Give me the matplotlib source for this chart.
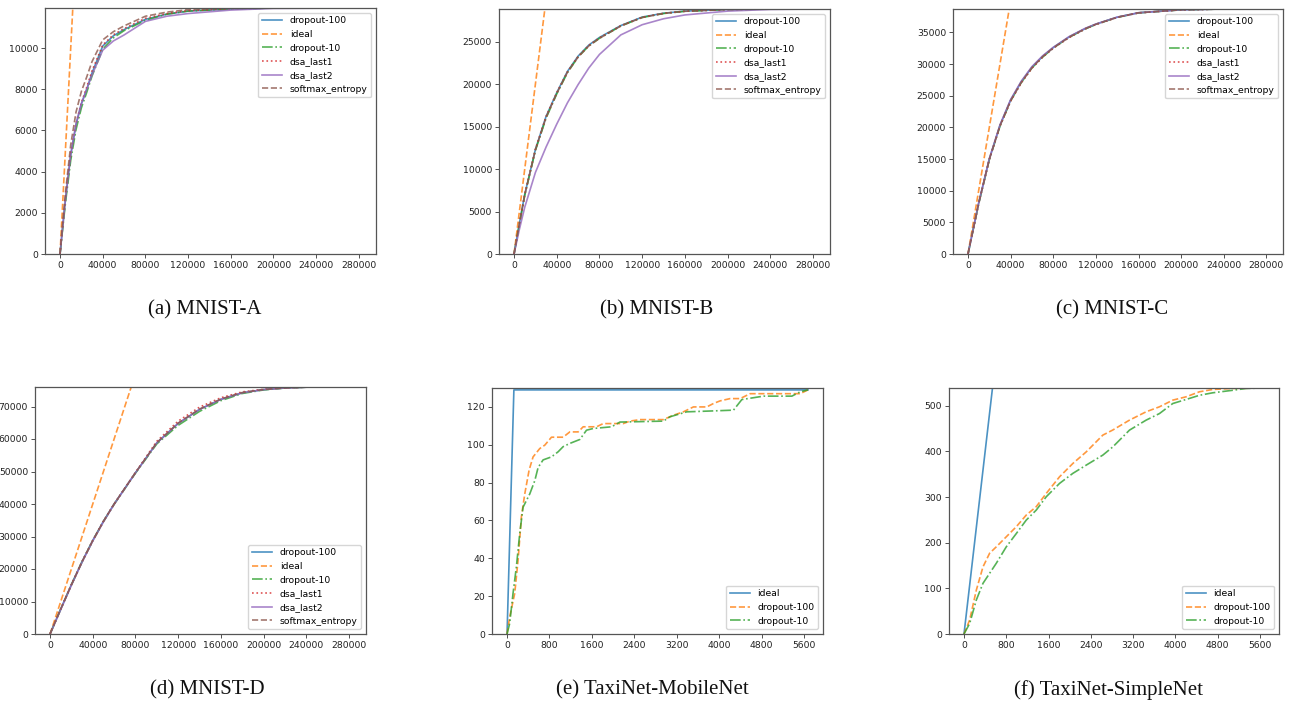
import matplotlib
matplotlib.use("Agg")
import matplotlib.pyplot as plt

# ---------------- data ----------------
# MNIST-A
xA = [0, 2000, 5000, 10000, 15000, 20000, 25000, 30000, 40000, 50000, 60000, 80000, 100000, 120000, 160000, 200000, 282000]
d100A = [0, 1050, 2600, 4800, 6300, 7300, 8000, 8800, 10100, 10600, 10900, 11400, 11650, 11800, 11900, 11950, 11950]
d10A = [0, 1000, 2450, 4550, 6050, 7100, 7850, 8650, 9950, 10500, 10850, 11350, 11650, 11800, 11900, 11950, 11950]
dsa1A = [0, 1100, 2650, 4850, 6350, 7350, 8100, 8900, 10150, 10650, 10950, 11450, 11680, 11820, 11910, 11950, 11950]
dsa2A = [0, 1100, 2650, 4850, 6300, 7300, 8000, 8700, 9900, 10350, 10640, 11300, 11550, 11680, 11850, 11930, 11950]
smA = [0, 1250, 2950, 5300, 6900, 7900, 8600, 9350, 10400, 10800, 11080, 11550, 11750, 11870, 11940, 11950, 11950]
NA = 11950

# MNIST-B
xB = [0, 5000, 10000, 20000, 30000, 40000, 50000, 60000, 70000, 80000, 100000, 120000, 140000, 160000, 200000, 240000, 281800]
d100B = [0, 3600, 7000, 12300, 16200, 19000, 21500, 23300, 24600, 25500, 26900, 27900, 28350, 28600, 28800, 28850, 28850]
d10B = [0, 3500, 6900, 12200, 16000, 18850, 21350, 23200, 24500, 25400, 26850, 27850, 28320, 28580, 28790, 28850, 28850]
dsa1B = [0, 3600, 7000, 12350, 16200, 19000, 21450, 23250, 24550, 25450, 26880, 27880, 28340, 28590, 28800, 28850, 28850]
dsa2B = [0, 2900, 5500, 9600, 12600, 15300, 17800, 19950, 21900, 23500, 25800, 27000, 27700, 28150, 28600, 28800, 28850]
smB = [0, 3550, 6950, 12250, 16100, 18900, 21400, 23200, 24500, 25400, 26850, 27850, 28330, 28580, 28790, 28850, 28850]
NB = 28850

# MNIST-C
xC = [0, 10000, 20000, 30000, 40000, 50000, 60000, 70000, 80000, 95000, 110000, 120000, 140000, 160000, 200000, 240000, 281500]
d100C = [0, 8000, 15000, 20300, 24300, 27200, 29500, 31200, 32600, 34300, 35600, 36300, 37400, 38100, 38580, 38700, 38700]
d10C = [0, 7950, 14900, 20200, 24200, 27100, 29400, 31100, 32550, 34250, 35550, 36280, 37380, 38090, 38570, 38700, 38700]
dsa1C = [0, 7950, 14950, 20200, 24150, 27050, 29350, 31100, 32500, 34200, 35550, 36250, 37370, 38080, 38570, 38700, 38700]
dsa2C = [0, 8050, 15050, 20400, 24400, 27300, 29600, 31300, 32650, 34350, 35650, 36330, 37420, 38110, 38580, 38700, 38700]
smC = [0, 7950, 14950, 20250, 24200, 27100, 29400, 31150, 32550, 34250, 35580, 36280, 37390, 38100, 38580, 38700, 38700]
NC = 38700

# MNIST-D
xD = [0, 10000, 20000, 30000, 40000, 50000, 60000, 80000, 100000, 120000, 140000, 160000, 180000, 200000, 220000, 240000, 281800]
d100D = [0, 7700, 15200, 22300, 28800, 34700, 40000, 49600, 58800, 64800, 69100, 72200, 74200, 75200, 75700, 75950, 76000]
d10D = [0, 7650, 15100, 22200, 28700, 34600, 39900, 49500, 58500, 64200, 68500, 71800, 74000, 75100, 75700, 75950, 76000]
dsa1D = [0, 7700, 15200, 22300, 28800, 34700, 40000, 49700, 59300, 65500, 69800, 72700, 74500, 75300, 75750, 75950, 76000]
dsa2D = [0, 7500, 15000, 22100, 28600, 34500, 39900, 49600, 58800, 64800, 69100, 72200, 74200, 75200, 75700, 75950, 76000]
smD = [0, 7650, 15150, 22250, 28750, 34650, 40000, 49650, 58900, 64900, 69200, 72300, 74300, 75250, 75700, 75950, 76000]
ND = 76000

# TaxiNet-MobileNet
xE_d100 = [0, 50, 145, 208, 271, 334, 416, 491, 617, 712, 838, 1058, 1184, 1342, 1436, 1688, 1814, 2192, 2318, 2507,
           2948, 3137, 3326, 3515, 3767, 3893, 4019, 4208, 4397, 4586, 5531, 5676]
yE_d100 = [0, 9, 21.5, 39, 62, 74, 86.6, 93.6, 98, 99.8, 104, 104, 106.8, 106.8, 109.5, 109.5, 111.2, 111.2, 112.5, 113.3,
           113.3, 115.6, 117.4, 120, 120, 121.8, 123.2, 124.4, 124.4, 127, 127, 129]
xE_d10 = [0, 50, 113, 176, 239, 302, 428, 523, 586, 680, 838, 964, 1058, 1184, 1373, 1499, 1625, 1972, 2129, 2948,
          3074, 3389, 3893, 4271, 4429, 4838, 5373, 5531, 5676]
yE_d10 = [0, 5.6, 21.5, 35.5, 53, 67, 74, 81, 88, 92, 93.6, 96.3, 99, 100.7, 102.8, 107.7, 108.6, 109.5, 112, 112.5,
          114.8, 117.4, 117.9, 118.3, 123.9, 125.7, 125.7, 128, 129]
xE_ideal = [0, 129, 5676]
yE_ideal = [0, 129, 129]
NE_top = 130

# TaxiNet-SimpleNet
xF_d100 = [0, 107, 233, 359, 485, 611, 800, 989, 1178, 1367, 1556, 1808, 2060, 2312, 2627, 2816, 3131, 3446, 3698,
           3950, 4202, 4454, 4706, 5084, 5676]
yF_d100 = [0, 30.7, 96, 147, 177, 191, 213, 235, 260.6, 279, 308, 344.5, 373.7, 399, 435.8, 447, 468.6, 486.9, 497.8,
           512.4, 519.7, 530.7, 535.8, 538, 539]
xF_d10 = [0, 107, 233, 359, 485, 611, 800, 989, 1178, 1367, 1556, 1808, 2060, 2312, 2627, 2816, 3131, 3446, 3698,
          3950, 4202, 4454, 4706, 5084, 5336, 5676]
yF_d10 = [0, 23, 74.5, 111, 133, 155, 191, 220, 249.6, 271.5, 300.7, 330, 352, 370, 392, 410, 446.7, 468.6, 483,
          505, 513.9, 523, 528.5, 534, 538, 539]
xF_ideal = [0, 539, 5676]
yF_ideal = [0, 539, 539]
NF_top = 539

mnist_xticks = [0, 40000, 80000, 120000, 160000, 200000, 240000, 280000]
taxi_xticks = [0, 800, 1600, 2400, 3200, 4000, 4800, 5600]

captions = ["(a) MNIST-A", "(b) MNIST-B", "(c) MNIST-C", "(d) MNIST-D",
            "(e) TaxiNet-MobileNet", "(f) TaxiNet-SimpleNet"]

# ---------------- style ----------------
W, H = 1289, 703
fig = plt.figure(figsize=(W / 100, H / 100), dpi=100)

C = plt.rcParams['axes.prop_cycle'].by_key()['color']
LW = 1.2
AL = 0.8
FS = 6.7


def ax_at(x0, y0, x1, y1):
    return fig.add_axes([x0 / W, 1 - y1 / H, (x1 - x0) / W, (y1 - y0) / H])


def style(ax, xticks, yticks):
    ax.set_xticks(xticks)
    ax.set_yticks(yticks)
    ax.tick_params(labelsize=FS, length=3, width=0.6, colors='#333333', labelcolor='#222222', pad=2)
    for s in ax.spines.values():
        s.set_color('#555555')
        s.set_linewidth(0.9)


def mnist(ax, x, d100, d10, dsa1, dsa2, sm, N, yticks, loc):
    ax.plot(x, d100, color=C[0], lw=LW, alpha=AL, ls='-', label='dropout-100')
    ax.plot([0, N, x[-1]], [0, N, N], color=C[1], lw=LW, alpha=AL, ls='--', label='ideal')
    ax.plot(x, d10, color=C[2], lw=LW, alpha=AL, ls='-.', label='dropout-10')
    ax.plot(x, dsa1, color=C[3], lw=LW, alpha=AL, ls=':', label='dsa_last1')
    ax.plot(x, dsa2, color=C[4], lw=LW, alpha=AL, ls='-', label='dsa_last2')
    ax.plot(x, sm, color=C[5], lw=LW, alpha=AL, ls='--', label='softmax_entropy')
    ax.set_ylim(0, N)
    style(ax, mnist_xticks, yticks)
    ax.legend(loc=loc, fontsize=FS, handlelength=2.2, borderpad=0.4, labelspacing=0.5)


axA = ax_at(45, 8, 376, 254)
mnist(axA, xA, d100A, d10A, dsa1A, dsa2A, smA, NA, list(range(0, 12000, 2000)), 'upper right')
axB = ax_at(499, 9, 830, 254)
mnist(axB, xB, d100B, d10B, dsa1B, dsa2B, smB, NB, list(range(0, 30000, 5000)), 'upper right')
axC = ax_at(953, 9, 1283, 254)
mnist(axC, xC, d100C, d10C, dsa1C, dsa2C, smC, NC, list(range(0, 40000, 5000)), 'upper right')
axD = ax_at(35, 387, 366, 634)
mnist(axD, xD, d100D, d10D, dsa1D, dsa2D, smD, ND, list(range(0, 80000, 10000)), 'lower right')


def taxi(ax, xi, yi, x1, y1, x2, y2, top, yticks):
    ax.plot(xi, yi, color=C[0], lw=LW, alpha=AL, ls='-', label='ideal')
    ax.plot(x1, y1, color=C[1], lw=LW, alpha=AL, ls='--', label='dropout-100')
    ax.plot(x2, y2, color=C[2], lw=LW, alpha=AL, ls='-.', label='dropout-10')
    ax.set_ylim(0, top)
    style(ax, taxi_xticks, yticks)
    ax.legend(loc='lower right', fontsize=FS, handlelength=2.2, borderpad=0.4, labelspacing=0.5)


axE = ax_at(492, 388, 823, 634)
taxi(axE, xE_ideal, yE_ideal, xE_d100, yE_d100, xE_d10, yE_d10, NE_top, list(range(0, 140, 20)))
axF = ax_at(949, 388, 1279, 634)
taxi(axF, xF_ideal, yF_ideal, xF_d100, yF_d100, xF_d10, yF_d10, NF_top, list(range(0, 600, 100)))

cap_pos = [(205, 310), (657, 310), (1112, 310), (207, 690), (652, 690), (1109, 690)]
for (cx, cy), t in zip(cap_pos, captions):
    fig.text(cx / W, 1 - cy / H, t, ha='center', va='center', fontsize=15,
             family='Liberation Serif', color='#111111')

fig.savefig('out.png', dpi=100)
